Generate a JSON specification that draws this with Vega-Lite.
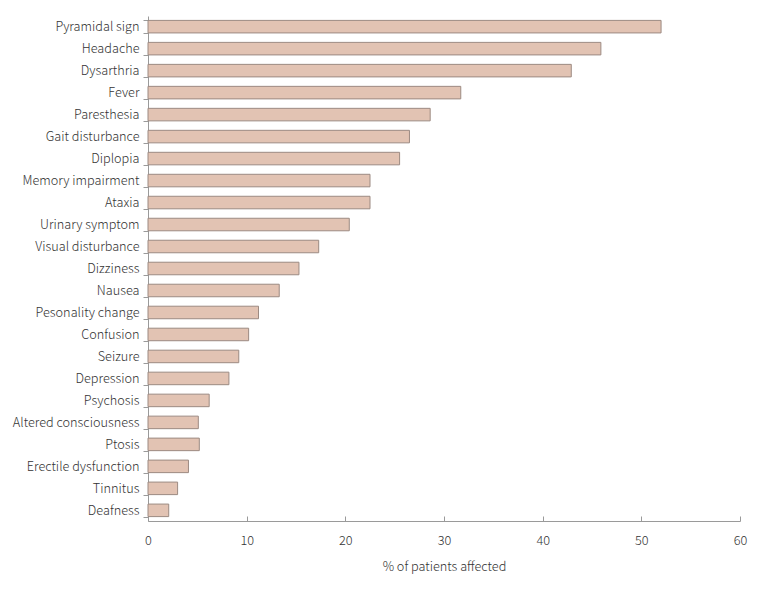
{
  "$schema": "https://vega.github.io/schema/vega-lite/v6.json",
  "width": 592,
  "height": 505,
  "autosize": {"type": "none"},
  "padding": {"left": 148, "top": 16, "right": 29, "bottom": 69},
  "background": "white",
  "config": {
    "view": {"stroke": null},
    "font": "Noto Sans CJK KR",
    "axis": {
      "labelFont": "Noto Sans CJK KR",
      "titleFont": "Noto Sans CJK KR",
      "labelFontWeight": 300,
      "titleFontWeight": 300,
      "labelColor": "#333333",
      "titleColor": "#333333",
      "domainColor": "#9a9a9a",
      "tickColor": "#9a9a9a",
      "labelFontSize": 12.7,
      "titleFontSize": 12.7,
      "grid": false
    }
  },
  "data": {
    "values": [
      {"symptom": "Pyramidal sign", "pct": 52},
      {"symptom": "Headache", "pct": 45.9},
      {"symptom": "Dysarthria", "pct": 42.9},
      {"symptom": "Fever", "pct": 31.7},
      {"symptom": "Paresthesia", "pct": 28.6},
      {"symptom": "Gait disturbance", "pct": 26.5},
      {"symptom": "Diplopia", "pct": 25.5},
      {"symptom": "Memory impairment", "pct": 22.5},
      {"symptom": "Ataxia", "pct": 22.5},
      {"symptom": "Urinary symptom", "pct": 20.4},
      {"symptom": "Visual disturbance", "pct": 17.3},
      {"symptom": "Dizziness", "pct": 15.3},
      {"symptom": "Nausea", "pct": 13.3},
      {"symptom": "Pesonality change", "pct": 11.2},
      {"symptom": "Confusion", "pct": 10.2},
      {"symptom": "Seizure", "pct": 9.2},
      {"symptom": "Depression", "pct": 8.2},
      {"symptom": "Psychosis", "pct": 6.2},
      {"symptom": "Altered consciousness", "pct": 5.1},
      {"symptom": "Ptosis", "pct": 5.2},
      {"symptom": "Erectile dysfunction", "pct": 4.1},
      {"symptom": "Tinnitus", "pct": 3.0},
      {"symptom": "Deafness", "pct": 2.1}
    ]
  },
  "mark": {"type": "bar", "fill": "#e2c3b3", "stroke": "#9c8a82", "strokeWidth": 1},
  "encoding": {
    "y": {
      "field": "symptom",
      "type": "nominal",
      "sort": null,
      "scale": {"paddingInner": 0.43, "paddingOuter": 0.2},
      "axis": {"title": null, "tickBand": "extent", "tickSize": 5, "labelPadding": 4, "domain": true}
    },
    "x": {
      "field": "pct",
      "type": "quantitative",
      "scale": {"domain": [0, 60], "nice": false},
      "axis": {"title": "% of patients affected", "values": [0, 10, 20, 30, 40, 50, 60], "tickSize": -5, "labelFlush": false, "labelPadding": 18, "titlePadding": 14}
    }
  }
}
